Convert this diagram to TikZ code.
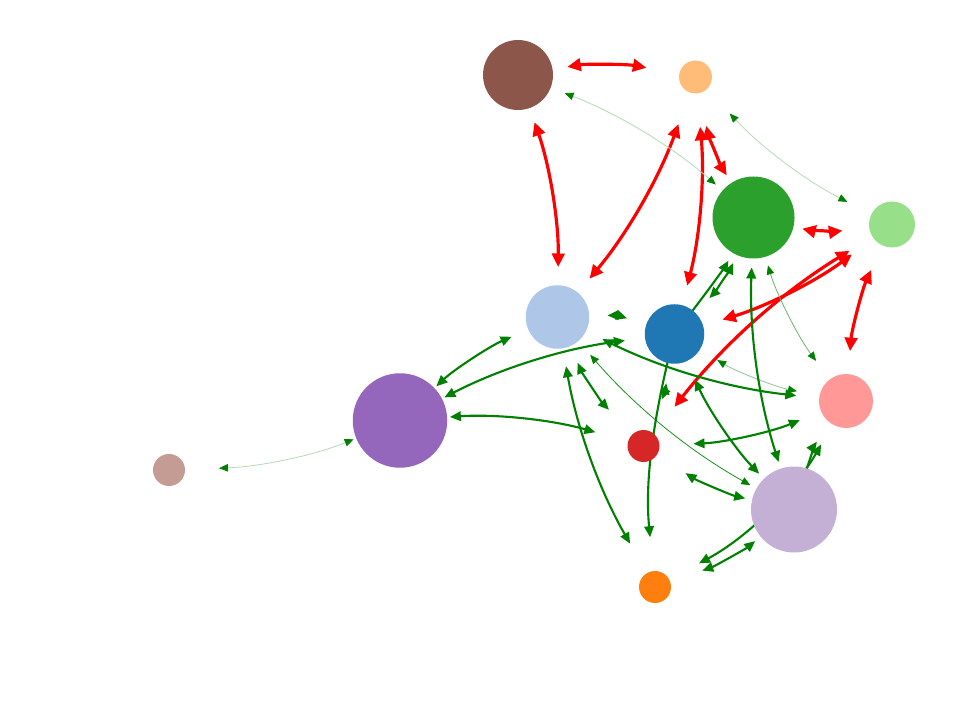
\documentclass[tikz,border=0pt]{standalone}
\usepackage[rgb]{xcolor}
\usepackage{tikz}
\usetikzlibrary{arrows.meta,backgrounds}
\definecolor{tab_brown}{HTML}{8C564B}
\definecolor{tab_lorange}{HTML}{FFBB78}
\definecolor{tab_green}{HTML}{2CA02C}
\definecolor{tab_lgreen}{HTML}{98DF8A}
\definecolor{tab_lblue}{HTML}{AEC7E8}
\definecolor{tab_blue}{HTML}{1F77B4}
\definecolor{tab_pink}{HTML}{FF9896}
\definecolor{tab_purple}{HTML}{9467BD}
\definecolor{tab_red}{HTML}{D62728}
\definecolor{tab_tan}{HTML}{C49C94}
\definecolor{tab_lavender}{HTML}{C5B0D5}
\definecolor{tab_orange}{HTML}{FF7F0E}
\definecolor{edge_green}{HTML}{008000}

\tikzset{
    dot/.style={circle, inner sep=0pt, draw=none, minimum size=#1},
    redarc/.style={draw=red, line width=1.8pt, >={Triangle[length=0.27cm,width=0.25cm]}, <->,
        shorten <=1cm, shorten >=1cm},
    greenarc/.style={draw=edge_green, line width=1.2pt, >={Triangle[length=0.22cm,width=0.19cm]}, <->,
        shorten <=1cm, shorten >=1cm},
    greenone/.style={greenarc, ->, shorten <=0cm},
    thinarc/.style={draw=edge_green!#1, line width=0.45pt,
        >={Triangle[length=0.18cm,width=0.15cm,color=edge_green]}, <->,
        shorten <=1cm, shorten >=1cm}
}

\begin{document}
\begin{tikzpicture}
        \useasboundingbox (0,0) rectangle (19.58,14.14);

        \node[dot=1.40cm, fill=tab_brown] (brown) at (10.36, 12.64) {};
        \node[dot=0.66cm, fill=tab_lorange] (lorange) at (13.91, 12.60) {};
        \node[dot=1.64cm, fill=tab_green] (green) at (15.07, 9.79) {};
        \node[dot=0.92cm, fill=tab_lgreen] (lgreen) at (17.84, 9.65) {};
        \node[dot=1.27cm, fill=tab_lblue] (lblue) at (11.15, 7.80) {};
        \node[dot=1.19cm, fill=tab_blue] (blue) at (13.49, 7.46) {};
        \node[dot=1.08cm, fill=tab_pink] (pink) at (16.92, 6.12) {};
        \node[dot=1.89cm, fill=tab_purple] (purple) at (8.00, 5.73) {};
        \node[dot=0.64cm, fill=tab_red] (red) at (12.87, 5.22) {};
        \node[dot=0.64cm, fill=tab_tan] (tan) at (3.38, 4.74) {};
        \node[dot=1.72cm, fill=tab_lavender] (lavender) at (15.88, 3.95) {};
        \node[dot=0.64cm, fill=tab_orange] (orange) at (13.10, 2.40) {};

        \begin{scope}[on background layer]
            % red links
            \draw[redarc] (brown.center) to[bend left=10] (lorange.center);
            \draw[redarc] (brown.center) to[bend left=10] (lblue.center);
            \draw[redarc] (lorange.center) to[bend left=10] (lblue.center);
            \draw[redarc] (lorange.center) to[bend left=10] (blue.center);
            \draw[redarc] (green.center) to[bend left=10] (lorange.center);
            \draw[redarc] (lgreen.center) to[bend left=10] (green.center);
            \draw[redarc] (lgreen.center) to[bend left=10] (blue.center);
            \draw[redarc] (red.center) to[bend left=10] (lgreen.center);
            \draw[redarc] (pink.center) to[bend left=10] (lgreen.center);

            % green links
            \draw[thinarc=30] (brown.center) to[bend left=10] (green.center);
            \draw[thinarc=30] (lgreen.center) to[bend left=10] (lorange.center);
            \draw[thinarc=30] (purple.center) to[bend left=10] (tan.center);
            \draw[thinarc=90] (lavender.center) to[bend left=10] (lblue.center);
            \draw[thinarc=45] (pink.center) to[bend left=10] (blue.center);
            \draw[thinarc=60] (pink.center) to[bend left=10] (green.center);

            \draw[greenarc] (green.center) to[bend left=10] (blue.center);
            \draw[greenarc] (lavender.center) to[bend left=10] (green.center);
            \draw[greenarc] (purple.center) to[bend left=10] (lblue.center);
            \draw[greenarc] (purple.center) to[bend left=10] (blue.center);
            \draw[greenarc] (pink.center) to[bend left=10] (lblue.center);
            \draw[greenarc] (purple.center) to[bend left=10] (red.center);
            \draw[greenarc] (orange.center) to[bend left=10] (lblue.center);
            \draw[greenarc] (red.center) to[bend left=10] (lblue.center);
            \draw[greenarc] (lavender.center) to[bend left=10] (blue.center);
            \draw[greenarc] (pink.center) to[bend left=10] (red.center);
            \draw[greenarc] (lavender.center) to[bend left=10] (red.center);
            \draw[greenarc] (lavender.center) to[bend left=10] (orange.center);
            \draw[greenarc] (pink.center) to[bend left=16] (orange.center);
            \draw[greenarc] (lblue.center) to[bend left=10] (blue.center);
            \draw[greenarc] (red.center) to[bend right=6] (blue.center);

            \draw[greenone] (blue.center) to[bend right=4] (green.center);
            \draw[greenone] (blue.center) to[bend right=10] (orange.center);
            \draw[greenone] (lavender.center) to[bend left=10] (pink.center);
        \end{scope}

\end{tikzpicture}
\end{document}
